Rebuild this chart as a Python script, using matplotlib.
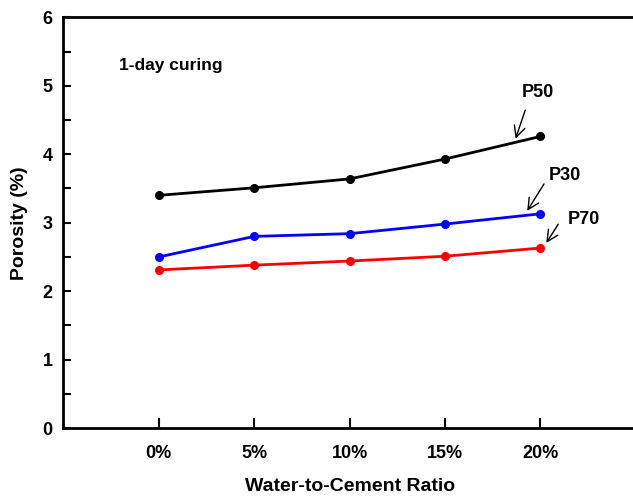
import matplotlib
matplotlib.use('Agg')
import matplotlib.pyplot as plt
from matplotlib.ticker import MultipleLocator

plt.rcParams['font.family'] = ['Liberation Sans', 'DejaVu Sans']
plt.rcParams['font.weight'] = 'bold'

ratios = ['0%', '5%', '10%', '15%', '20%']
p50 = [3.40, 3.51, 3.64, 3.93, 4.26]
p30 = [2.50, 2.80, 2.84, 2.98, 3.13]
p70 = [2.31, 2.38, 2.44, 2.51, 2.63]

fig = plt.figure(figsize=(6.33, 4.96), dpi=100)
ax = fig.add_axes([0.1003, 0.137, 0.904, 0.828])

x = list(range(len(ratios)))
ax.plot(x, p50, color='black', lw=2, marker='o', ms=5.5)
ax.plot(x, p30, color='blue', lw=2, marker='o', ms=5.5)
ax.plot(x, p70, color='red', lw=2, marker='o', ms=5.5)

ax.set_xlim(-1, 5)
ax.set_ylim(0, 6)
ax.set_xticks(x)
ax.set_xticklabels(ratios)
ax.yaxis.set_major_locator(MultipleLocator(1))
ax.yaxis.set_minor_locator(MultipleLocator(0.5))
ax.tick_params(axis='both', which='both', direction='in', width=1.5, labelsize=13)
ax.tick_params(axis='y', which='major', length=6, pad=8)
ax.tick_params(axis='y', which='minor', length=6)
ax.tick_params(axis='x', which='major', length=7, pad=12)

ax.spines['right'].set_visible(False)
for s in ['left', 'bottom', 'top']:
    ax.spines[s].set_linewidth(2)

ax.set_xlabel('Water-to-Cement Ratio', fontsize=14, fontweight='bold', labelpad=12)
ax.set_ylabel('Porosity (%)', fontsize=14, fontweight='bold', labelpad=10)

ax.text(-0.413, 5.30, '1-day curing', fontsize=12.5, fontweight='bold', ha='left', va='center')

# series labels with open arrows
arrow = dict(arrowstyle='->', color='black', lw=1, mutation_scale=20)
ax.text(3.973, 4.90, 'P50', fontsize=13, fontweight='bold', ha='center', va='center')
ax.annotate('', xy=(3.731, 4.19), xytext=(3.851, 4.683), arrowprops=arrow)
ax.text(4.253, 3.694, 'P30', fontsize=13, fontweight='bold', ha='center', va='center')
ax.annotate('', xy=(3.847, 3.139), xytext=(4.054, 3.601), arrowprops=arrow)
ax.text(4.455, 3.041, 'P70', fontsize=13, fontweight='bold', ha='center', va='center')
ax.annotate('', xy=(4.046, 2.671), xytext=(4.204, 3.012), arrowprops=arrow)

fig.savefig('out.png', dpi=100)
